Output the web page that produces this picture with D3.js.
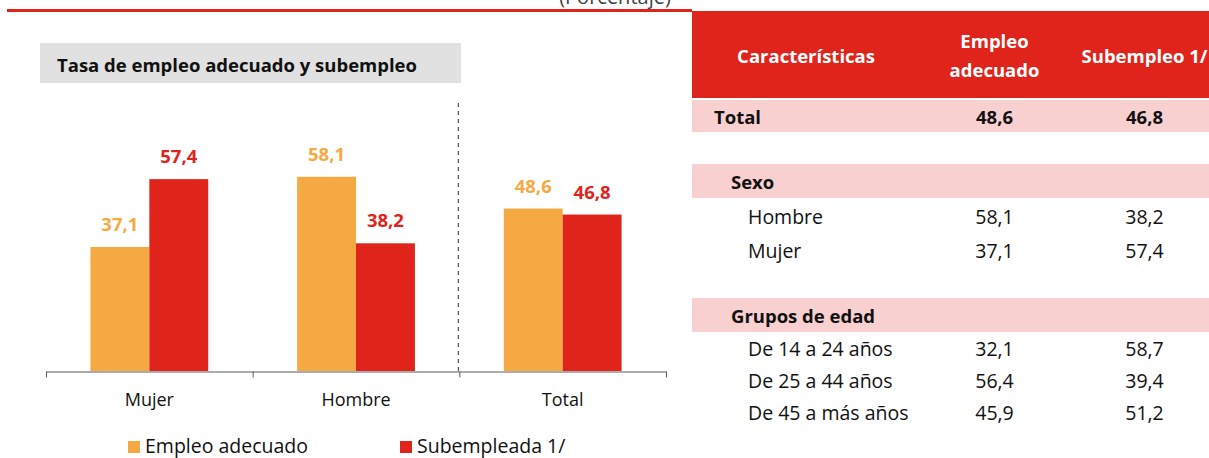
<!DOCTYPE html>
<html lang="es">
<head>
    <meta charset="UTF-8">
    <title>Tasa de empleo adecuado y subempleo</title>
    <script src="https://d3js.org/d3.v7.min.js"></script>
    <style>
        body { margin: 0; background: #fff; }
        svg { display: block; font-family: "Open Sans", sans-serif; }
    </style>
</head>
<body>
    <div id="chart"></div>
    <script>
        // Chart data
        const categories = ["Mujer", "Hombre", "Total"];
        const seriesNames = ["Empleo adecuado", "Subempleada 1/"];
        const empleoAdecuado = [37.1, 58.1, 48.6];
        const subempleo = [57.4, 38.2, 46.8];

        // Table data
        const tableHeaders = ["Características", "Empleo\nadecuado", "Subempleo 1/"];
        const rowLabels = ["Total", "Sexo", "Hombre", "Mujer", "Grupos de edad",
            "De 14 a 24 años", "De 25 a 44 años", "De 45 a más años"];
        const rowKinds = ["total", "group", "item", "item", "group", "item", "item", "item"];
        const empleoTabla = [48.6, null, 58.1, 37.1, null, 32.1, 56.4, 45.9];
        const subempleoTabla = [46.8, null, 38.2, 57.4, null, 58.7, 39.4, 51.2];

        const colors = ["#F5A942", "#E0241B"];
        const width = 1209, height = 458;

        const fmt = d3.formatLocale({decimal: ",", thousands: ".", grouping: [3], currency: ["", ""]}).format(".1f");

        const svg = d3.select("#chart").append("svg")
            .attr("width", width)
            .attr("height", height);

        // top caption (cut by the page edge) and red rule
        svg.append("text")
            .attr("x", 615).attr("y", 4)
            .attr("text-anchor", "middle")
            .attr("font-size", 20)
            .attr("fill", "#404040")
            .text("(Porcentaje)");

        svg.append("line")
            .attr("x1", 7).attr("x2", 692)
            .attr("y1", 10.5).attr("y2", 10.5)
            .attr("stroke", "#E0241B")
            .attr("stroke-width", 3);

        // title box
        svg.append("rect")
            .attr("x", 40).attr("y", 43)
            .attr("width", 421).attr("height", 40)
            .attr("fill", "#E1E1E1");
        svg.append("text")
            .attr("x", 57).attr("y", 72)
            .attr("font-size", 18.5)
            .attr("font-weight", "bold")
            .attr("fill", "#111")
            .text("Tasa de empleo adecuado y subempleo");

        // scales
        const x0 = d3.scaleBand()
            .domain(categories)
            .range([46, 666])
            .paddingInner(0.43)
            .paddingOuter(0.215);

        const x1 = d3.scaleBand()
            .domain(seriesNames)
            .range([0, x0.bandwidth()]);

        const y = d3.scaleLinear()
            .domain([0, 70])
            .range([371, 137]);

        const xb = d3.scaleLinear()
            .domain([0, categories.length])
            .range([46, 666]);

        const seriesValues = [empleoAdecuado, subempleo];

        const groups = svg.append("g").selectAll("g")
            .data(categories)
            .join("g")
            .attr("transform", d => `translate(${x0(d)},0)`);

        groups.selectAll("rect")
            .data((d, i) => seriesNames.map((s, j) => ({s, j, v: seriesValues[j][i]})))
            .join("rect")
            .attr("x", d => x1(d.s))
            .attr("y", d => y(d.v))
            .attr("width", x1.bandwidth())
            .attr("height", d => y(0) - y(d.v))
            .attr("fill", d => colors[d.j]);

        groups.selectAll("text")
            .data((d, i) => seriesNames.map((s, j) => ({s, j, v: seriesValues[j][i]})))
            .join("text")
            .attr("x", d => x1(d.s) + x1.bandwidth() / 2)
            .attr("y", d => y(d.v) - 16)
            .attr("text-anchor", "middle")
            .attr("font-size", 18.5)
            .attr("font-weight", "bold")
            .attr("fill", d => colors[d.j])
            .text(d => fmt(d.v));

        // separator before Total
        svg.append("line")
            .attr("x1", xb(2) - 1).attr("x2", xb(2) - 1)
            .attr("y1", 103).attr("y2", y(0))
            .attr("stroke", "#333")
            .attr("stroke-width", 1)
            .attr("stroke-dasharray", "4,4");

        // x axis: boundary ticks + category labels
        const axis = svg.append("g")
            .attr("transform", `translate(0,${y(0) + 0.5})`)
            .call(d3.axisBottom(xb).tickValues(d3.range(categories.length + 1)).tickSize(6).tickFormat("").tickSizeOuter(0));
        axis.select(".domain").attr("stroke", "#595959");
        axis.selectAll(".tick line").attr("stroke", "#595959");

        svg.append("g").selectAll("text")
            .data(categories)
            .join("text")
            .attr("x", d => x0(d) + x0.bandwidth() / 2)
            .attr("y", 406)
            .attr("text-anchor", "middle")
            .attr("font-size", 18)
            .attr("fill", "#111")
            .text(d => d);

        // legend
        const legendX = [128, 400];
        const legend = svg.append("g").selectAll("g")
            .data(seriesNames)
            .join("g")
            .attr("transform", (d, i) => `translate(${legendX[i]},441)`);
        legend.append("rect")
            .attr("width", 12).attr("height", 12)
            .attr("fill", (d, i) => colors[i]);
        legend.append("text")
            .attr("x", 17).attr("y", 12)
            .attr("font-size", 19.5)
            .attr("fill", "#111")
            .text(d => d);

        // ---------- table ----------
        const tableX = 692, tableW = width - tableX;
        const colCenters = [806, 994.5, 1144.5];

        svg.append("rect")
            .attr("x", tableX).attr("y", 11)
            .attr("width", tableW).attr("height", 87)
            .attr("fill", "#E0241B");

        const headerLines = [[63], [48, 77], [63]];
        tableHeaders.forEach((h, i) => {
            h.split("\n").forEach((line, k) => {
                svg.append("text")
                    .attr("x", colCenters[i])
                    .attr("y", headerLines[i][k])
                    .attr("text-anchor", "middle")
                    .attr("font-size", 18.5)
                    .attr("font-weight", "bold")
                    .attr("fill", "#fff")
                    .text(line);
            });
        });

        // row layout (top of band, baseline)
        const rowTops = [100, 164, 198, 232, 298, 332, 364, 396];
        const rowBase = [124, 189, 224, 258, 323, 356, 388, 420];
        const labelX = {total: 714, group: 731, item: 748};

        const rows = svg.append("g").selectAll("g")
            .data(rowLabels.map((l, i) => ({l, i, kind: rowKinds[i], e: empleoTabla[i], s: subempleoTabla[i]})))
            .join("g");

        rows.filter(d => d.kind !== "item").append("rect")
            .attr("x", tableX)
            .attr("y", d => rowTops[d.i])
            .attr("width", tableW)
            .attr("height", d => d.kind === "total" ? 32 : 34)
            .attr("fill", "#F9D0D0");

        rows.append("text")
            .attr("x", d => labelX[d.kind])
            .attr("y", d => rowBase[d.i])
            .attr("font-size", d => d.kind === "item" ? 19.5 : 18.5)
            .attr("font-weight", d => d.kind === "item" ? "normal" : "bold")
            .attr("fill", "#111")
            .text(d => d.l);

        [["e", 1], ["s", 2]].forEach(([key, c]) => {
            rows.filter(d => d[key] != null).append("text")
                .attr("x", colCenters[c])
                .attr("y", d => rowBase[d.i])
                .attr("text-anchor", "middle")
                .attr("font-size", d => d.kind === "item" ? 19.5 : 18.5)
                .attr("font-weight", d => d.kind === "item" ? "normal" : "bold")
                .attr("fill", "#111")
                .text(d => fmt(d[key]));
        });
    </script>
</body>
</html>
